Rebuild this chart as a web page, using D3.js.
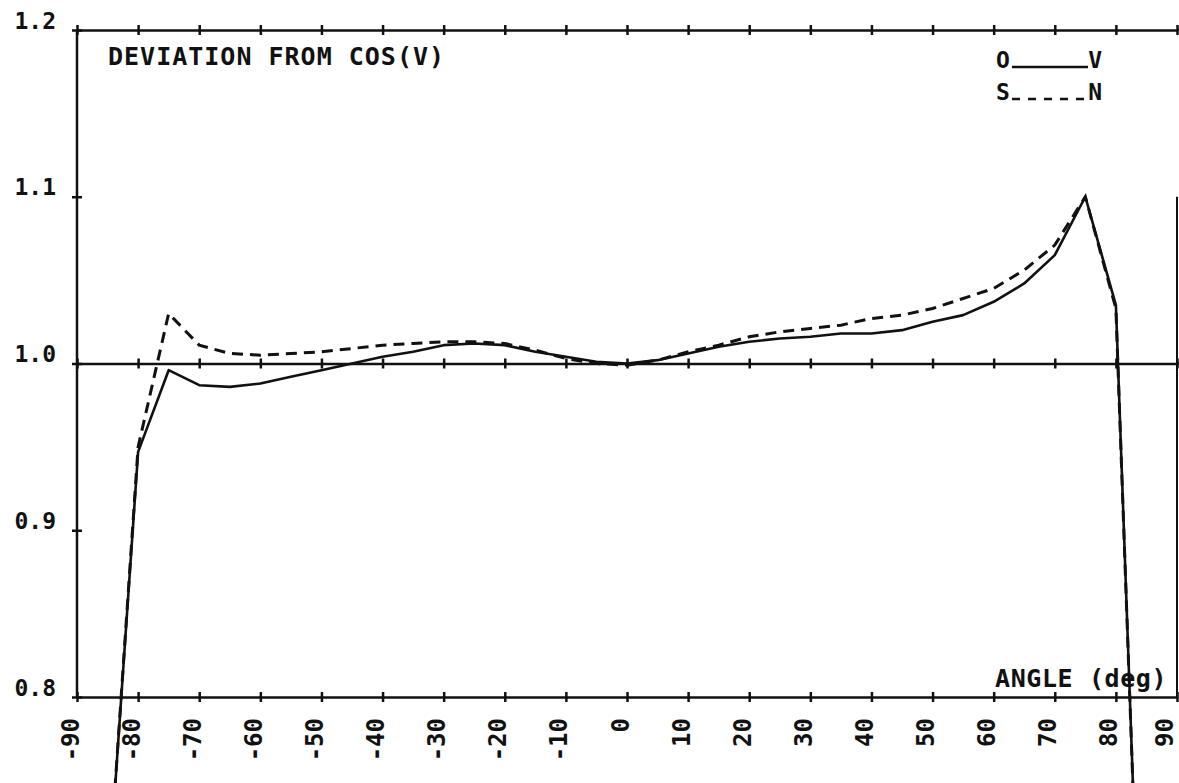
<!DOCTYPE html>
<html>
<head>
<meta charset="utf-8">
<script src="https://cdn.jsdelivr.net/npm/d3@7"></script>
<style>
  body { margin: 0; background: #fff; }
  svg { display: block; }
  text { font-family: "DejaVu Sans Mono", "Liberation Mono", monospace; font-weight: bold; fill: #111; }
</style>
</head>
<body>
<div id="chart"></div>
<script>
// angles in degrees, every 5 deg
const angles = [-85, -80, -75, -70, -65, -60, -55, -50, -45, -40, -35, -30, -25, -20, -15, -10, -5,
                0, 5, 10, 15, 20, 25, 30, 35, 40, 45, 50, 55, 60, 65, 70, 75, 80, 85];

// O-V (solid)
const ovValues = [0.68, 0.947, 0.996, 0.987, 0.986, 0.988, 0.992, 0.996, 1.000, 1.004, 1.007, 1.011, 1.012, 1.011, 1.007, 1.004, 1.001,
                  1.000, 1.002, 1.006, 1.010, 1.013, 1.015, 1.016, 1.018, 1.018, 1.020, 1.025, 1.029, 1.037, 1.048, 1.065, 1.100, 1.035, 0.52];

// S-N (dashed)
const snValues = [0.68, 0.950, 1.030, 1.011, 1.006, 1.005, 1.006, 1.007, 1.009, 1.011, 1.012, 1.013, 1.013, 1.012, 1.008, 1.003, 1.000,
                  0.999, 1.002, 1.007, 1.011, 1.016, 1.019, 1.021, 1.023, 1.027, 1.029, 1.033, 1.039, 1.045, 1.056, 1.071, 1.100, 1.033, 0.52];

const xTicks = [-90, -80, -70, -60, -50, -40, -30, -20, -10, 0, 10, 20, 30, 40, 50, 60, 70, 80, 90];
const yTicks = [0.8, 0.9, 1.0, 1.1, 1.2];

const W = 1179, H = 783;
const svg = d3.select("#chart").append("svg")
    .attr("width", W)
    .attr("height", H);

const x = d3.scaleLinear().domain([-90, 90]).range([77, 1177]);
const y = d3.scaleLinear().domain([0.8, 1.2]).range([697, 30]);

const axisStroke = g => {
    g.select(".domain").attr("stroke", "#111").attr("stroke-width", 2.5);
    g.selectAll(".tick line").attr("stroke", "#111").attr("stroke-width", 2.5);
};

// bottom axis (0.8)
const bottom = svg.append("g")
    .attr("transform", `translate(0,${y(0.8)})`)
    .call(d3.axisBottom(x).tickValues(xTicks).tickSizeOuter(0).tickFormat(d => d))
    .call(axisStroke);
bottom.selectAll(".tick line").attr("y1", -5).attr("y2", 5);
bottom.selectAll(".tick text")
    .attr("transform", "rotate(-90)")
    .attr("text-anchor", "end")
    .attr("x", -21)
    .attr("y", d => d === 90 ? -5 : 1)
    .attr("dy", 0)
    .attr("font-size", 24);

// top axis (1.2) and reference line (1.0)
[1.2, 1.0].forEach(v => {
    const g = svg.append("g")
        .attr("transform", `translate(0,${y(v)})`)
        .call(d3.axisBottom(x).tickValues(xTicks).tickSizeOuter(0).tickFormat(""))
        .call(axisStroke);
    g.selectAll(".tick line").attr("y1", -5).attr("y2", 5);
    g.append("line")
        .attr("x1", x(90)).attr("x2", W)
        .attr("stroke", "#111").attr("stroke-width", 2.5);
});

// left axis
const left = svg.append("g")
    .attr("transform", `translate(${x(-90)},0)`)
    .call(d3.axisLeft(y).tickValues(yTicks).tickSizeOuter(0).tickFormat(d3.format(".1f")))
    .call(axisStroke);
left.selectAll(".tick line").attr("x1", -5).attr("x2", 5);
left.selectAll(".tick text")
    .attr("x", -21)
    .attr("dy", -2)
    .attr("dominant-baseline", "auto")
    .attr("font-size", 23);
left.select(".domain").remove();
left.append("line")
    .attr("y1", y(1.2)).attr("y2", y(0.8))
    .attr("stroke", "#111").attr("stroke-width", 2.5);

// right frame (faded at the top in the original)
svg.append("line")
    .attr("x1", x(90)).attr("x2", x(90))
    .attr("y1", y(1.1)).attr("y2", y(0.8))
    .attr("stroke", "#111").attr("stroke-width", 2);

// curves
const line = d3.line()
    .x((d, i) => x(angles[i]))
    .y(d => y(d));

svg.append("path")
    .datum(ovValues)
    .attr("d", line)
    .attr("fill", "none")
    .attr("stroke", "#111")
    .attr("stroke-width", 2.6)
    .attr("stroke-linejoin", "round");

svg.append("path")
    .datum(snValues)
    .attr("d", line)
    .attr("fill", "none")
    .attr("stroke", "#111")
    .attr("stroke-width", 3)
    .attr("stroke-dasharray", "11,7");

// texts
svg.append("text")
    .attr("x", 108)
    .attr("y", 65)
    .attr("font-size", 25)
    .attr("letter-spacing", 1)
    .text("DEVIATION FROM COS(V)");

svg.append("text")
    .attr("x", 995)
    .attr("y", 687)
    .attr("font-size", 25)
    .attr("letter-spacing", 0.6)
    .text("ANGLE (deg)");

// legend
const legend = [
    {a: "O", b: "V", dash: null, y: 68},
    {a: "S", b: "N", dash: "8,8", y: 100}
];
legend.forEach(l => {
    svg.append("text").attr("x", 996).attr("y", l.y).attr("font-size", 23).text(l.a);
    svg.append("text").attr("x", 1102).attr("y", l.y).attr("font-size", 23)
        .attr("text-anchor", "end").text(l.b);
    svg.append("line")
        .attr("x1", 1012).attr("x2", 1088)
        .attr("y1", l.y - 1).attr("y2", l.y - 1)
        .attr("stroke", "#111").attr("stroke-width", 2.5)
        .attr("stroke-dasharray", l.dash);
});
</script>
</body>
</html>
